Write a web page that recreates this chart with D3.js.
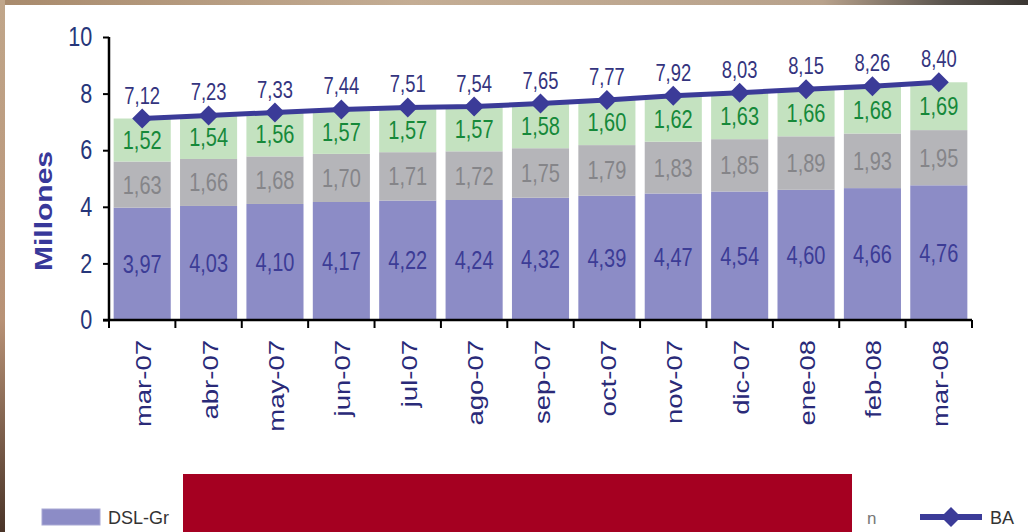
<!DOCTYPE html>
<html>
<head>
<meta charset="utf-8">
<script src="https://cdn.jsdelivr.net/npm/d3@7"></script>
<style>
  body { margin: 0; background: #fff; }
  text { font-family: "Liberation Sans", Arial, sans-serif; }
</style>
</head>
<body>
<script>
var months = ["mar-07","abr-07","may-07","jun-07","jul-07","ago-07","sep-07","oct-07","nov-07","dic-07","ene-08","feb-08","mar-08"];
var dsl   = [3.97,4.03,4.10,4.17,4.22,4.24,4.32,4.39,4.47,4.54,4.60,4.66,4.76];
var grey  = [1.63,1.66,1.68,1.70,1.71,1.72,1.75,1.79,1.83,1.85,1.89,1.93,1.95];
var green = [1.52,1.54,1.56,1.57,1.57,1.57,1.58,1.60,1.62,1.63,1.66,1.68,1.69];
var ba    = [7.12,7.23,7.33,7.44,7.51,7.54,7.65,7.77,7.92,8.03,8.15,8.26,8.40];
var yTicks = [0,2,4,6,8,10];

var W = 1028, H = 532;
var NARROW = 0.8; // the chart text looks squeezed horizontally
var svg = d3.select("body").append("svg")
    .attr("width", W)
    .attr("height", H);

// photo-like border strips
var defs = svg.append("defs");
var g1 = defs.append("linearGradient").attr("id", "topstrip");
g1.append("stop").attr("offset", "0%").attr("stop-color", "#a88a6c");
g1.append("stop").attr("offset", "40%").attr("stop-color", "#c4ad94");
g1.append("stop").attr("offset", "80%").attr("stop-color", "#b8a28c");
g1.append("stop").attr("offset", "92%").attr("stop-color", "#5a544e");
g1.append("stop").attr("offset", "100%").attr("stop-color", "#3a3632");
var g2 = defs.append("linearGradient").attr("id", "leftstrip")
    .attr("x1", 0).attr("y1", 0).attr("x2", 0).attr("y2", 1);
g2.append("stop").attr("offset", "0%").attr("stop-color", "#c0a68a");
g2.append("stop").attr("offset", "60%").attr("stop-color", "#b89276");
g2.append("stop").attr("offset", "100%").attr("stop-color", "#4a3428");

svg.append("rect").attr("x", 0).attr("y", 0).attr("width", W).attr("height", 5).attr("fill", "url(#topstrip)");
svg.append("rect").attr("x", 0).attr("y", 0).attr("width", 5).attr("height", H).attr("fill", "url(#leftstrip)");

var x = d3.scaleBand().domain(months).range([109, 972]).paddingInner(0.14).paddingOuter(0.07);
var y = d3.scaleLinear().domain([0, 10]).range([320, 37]);
var fmt = function(v) { return d3.format(".2f")(v).replace(".", ","); };
var cx = function(m) { return x(m) + x.bandwidth() / 2; };

// narrow text helper
function ntext(sel, px, py, rot) {
  return sel.append("g")
      .attr("transform", "translate(" + px + "," + py + ") scale(" + NARROW + ",1)" + (rot ? " rotate(" + rot + ")" : ""))
    .append("text");
}

var data = months.map(function(m, i) {
  return {m: m, dsl: dsl[i], grey: grey[i], green: green[i], ba: ba[i]};
});
var keys = ["dsl", "grey", "green"];
var fills = {dsl: "#8c8cc6", grey: "#b5b5b9", green: "#c4e2c0"};
var txt = {dsl: "#3c3c96", grey: "#858589", green: "#16893a"};
var stack = d3.stack().keys(keys)(data);

var layers = svg.selectAll(".layer").data(stack).enter().append("g")
    .attr("class", "layer");
layers.selectAll("rect").data(function(d) { return d; }).enter().append("rect")
    .attr("x", function(d) { return x(d.data.m); })
    .attr("width", x.bandwidth())
    .attr("y", function(d) { return y(d[1]); })
    .attr("height", function(d) { return y(d[0]) - y(d[1]); })
    .attr("fill", function() { return fills[d3.select(this.parentNode).datum().key]; });

var labG = svg.append("g");
stack.forEach(function(L) {
  L.forEach(function(d) {
    ntext(labG, cx(d.data.m), (y(d[0]) + y(d[1])) / 2 + 9)
        .attr("text-anchor", "middle")
        .attr("font-size", "25px")
        .attr("fill", txt[L.key])
        .text(fmt(d.data[L.key]));
  });
});

// axes
var yAxis = d3.axisLeft(y).tickValues(yTicks).tickSize(6).tickPadding(15);
var ya = svg.append("g").attr("transform", "translate(109,0)").call(yAxis);
ya.select(".domain").attr("stroke", "#000").attr("stroke-width", 2.5).attr("d", "M0,37V320");
ya.selectAll(".tick line").attr("stroke", "#000").attr("stroke-width", 2);
ya.selectAll(".tick text").attr("fill", "#26367a").attr("font-size", "27px")
    .attr("transform", "scale(" + NARROW + ",1)")
    .style("font-family", "'Liberation Sans',Arial,sans-serif");

var step = x.step();
var edges = months.map(function(m) { return x(m) - (step - x.bandwidth()) / 2; });
edges.push(972);
svg.append("line").attr("x1", 103).attr("x2", 972).attr("y1", 320).attr("y2", 320)
    .attr("stroke", "#000").attr("stroke-width", 2.5);
svg.selectAll(".xtick").data(edges).enter().append("line")
    .attr("x1", function(d) { return d; }).attr("x2", function(d) { return d; })
    .attr("y1", 320).attr("y2", 328)
    .attr("stroke", "#000").attr("stroke-width", 2);
var xlG = svg.append("g");
months.forEach(function(m) {
  ntext(xlG, cx(m) + 9, 340, -90)
      .attr("text-anchor", "end")
      .attr("font-size", "27.5px")
      .attr("fill", "#2a2a78")
      .text(m);
});

ntext(svg, 52, 211, -90)
    .attr("text-anchor", "middle")
    .attr("font-size", "30px")
    .attr("font-weight", "bold")
    .attr("fill", "#38389a")
    .text("Millones");

// BA line
var line = d3.line()
    .x(function(d) { return cx(d.m); })
    .y(function(d) { return y(d.ba); });
svg.append("path").datum(data).attr("d", line)
    .attr("fill", "none").attr("stroke", "#3b3b98").attr("stroke-width", 5);
svg.selectAll(".dia").data(data).enter().append("path")
    .attr("d", d3.symbol().type(d3.symbolSquare).size(200))
    .attr("transform", function(d) { return "translate(" + cx(d.m) + "," + y(d.ba) + ") rotate(45)"; })
    .attr("fill", "#3b3b98");
var baG = svg.append("g");
data.forEach(function(d) {
  ntext(baG, cx(d.m), y(d.ba) - 15)
      .attr("text-anchor", "middle")
      .attr("font-size", "23px")
      .attr("fill", "#34347e")
      .text(fmt(d.ba));
});

// legend
var lg = svg.append("g");
lg.append("rect").attr("x", 42).attr("y", 509).attr("width", 58).attr("height", 16)
    .attr("fill", fills.dsl).attr("stroke", "#a8a8d4").attr("stroke-width", 1);
lg.append("text").attr("x", 108).attr("y", 524).attr("font-size", "18px").attr("fill", "#333")
    .text("DSL-Gr");
lg.append("text").attr("x", 867).attr("y", 524).attr("font-size", "17px").attr("fill", "#777")
    .text("n");
lg.append("line").attr("x1", 920).attr("x2", 982).attr("y1", 517).attr("y2", 517)
    .attr("stroke", "#3b3b98").attr("stroke-width", 6);
lg.append("path").attr("d", d3.symbol().type(d3.symbolSquare).size(200))
    .attr("transform", "translate(951,517) rotate(45)").attr("fill", "#3b3b98");
lg.append("text").attr("x", 990).attr("y", 524).attr("font-size", "18px").attr("fill", "#333")
    .text("BA");

// red block covering the legend
svg.append("rect").attr("x", 183).attr("y", 474).attr("width", 669).attr("height", 58)
    .attr("fill", "#a50021");
</script>
</body>
</html>
